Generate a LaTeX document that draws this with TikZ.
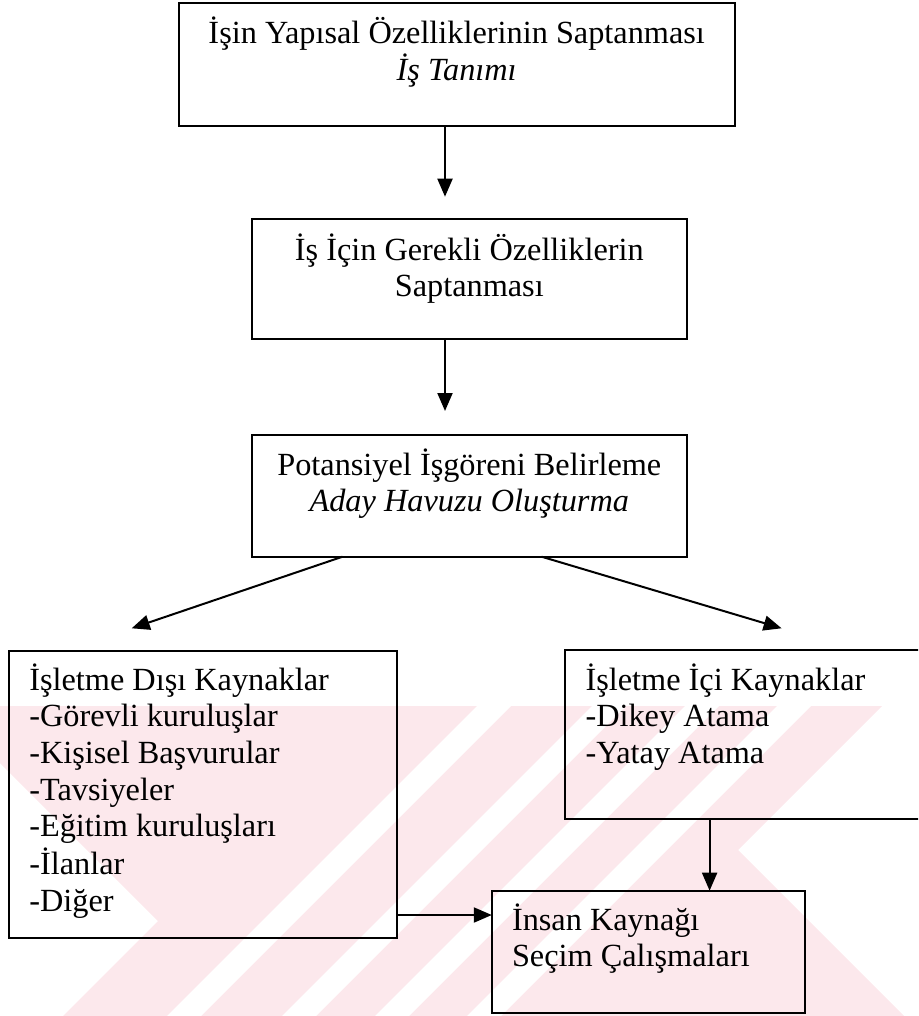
\documentclass[tikz,border=0pt]{standalone}
\usepackage{fontspec}
\setmainfont{Liberation Serif}
\usetikzlibrary{arrows.meta}
\definecolor{wm}{RGB}{252,232,236}
\begin{document}
\begin{tikzpicture}[x=1pt,y=-1pt,
  boxst/.style={draw, line width=2.2pt, inner sep=0pt, outer sep=0pt},
  txt/.style={inner sep=0pt, outer sep=0pt, font=\fontsize{32.3}{36.7}\selectfont},
  arr/.style={line width=2pt, -{Triangle[length=18pt,width=15pt]}}]
\useasboundingbox (0,0) rectangle (918,1016);
\clip (0,0) rectangle (918,1016);
% watermark
\fill[wm] (0,706) -- (882,706) -- (738,850) -- (904,1016) -- (63,1016) -- (158,921) -- (0,763) -- cycle;
\foreach \c in {1200,1315,1408,1500}{
  \fill[white] ({\c-17-706},706) -- ({\c+17-706},706) -- ({\c+17-1016},1016) -- ({\c-17-1016},1016) -- cycle;
}
% boxes
\node[boxst, minimum width=556.2pt, minimum height=122.4pt] (b1) at (456.7,64.5) {};
\node[boxst, minimum width=435pt, minimum height=120.3pt] (b2) at (469.3,279.15) {};
\node[boxst, minimum width=435pt, minimum height=121.7pt] (b3) at (469.3,495.85) {};
\node[boxst, minimum width=388.2pt, minimum height=287.6pt] (b4) at (202.9,794.5) {};
\node[boxst, minimum width=375pt, minimum height=169pt] (b5) at (752.5,734.5) {};
\node[boxst, minimum width=313.2pt, minimum height=122.3pt] (b6) at (648.4,951.85) {};
% texts
\node[txt, anchor=base] (t1) at (456.7,43.3) {\begin{tabular}[t]{@{}c@{}}İşin Yapısal Özelliklerinin Saptanması\\ \textit{İş Tanımı}\end{tabular}};
\node[txt, anchor=base] (t2) at (469.3,260) {\begin{tabular}[t]{@{}c@{}}İş İçin Gerekli Özelliklerin\\ Saptanması\end{tabular}};
\node[txt, anchor=base] (t3) at (469.3,475) {\begin{tabular}[t]{@{}c@{}}Potansiyel İşgöreni Belirleme\\ \textit{Aday Havuzu Oluşturma}\end{tabular}};
\node[txt, anchor=base west] (t4) at (29.3,690) {\begin{tabular}[t]{@{}l@{}}İşletme Dışı Kaynaklar\\ -Görevli kuruluşlar\\ -Kişisel Başvurular\\ -Tavsiyeler\\ -Eğitim kuruluşları\\ -İlanlar\\ -Diğer\end{tabular}};
\node[txt, anchor=base west] (t5) at (585.5,690) {\begin{tabular}[t]{@{}l@{}}İşletme İçi Kaynaklar\\ -Dikey Atama\\ -Yatay Atama\end{tabular}};
\node[txt, anchor=base west] (t6) at (512,930) {\begin{tabular}[t]{@{}l@{}}İnsan Kaynağı\\ Seçim Çalışmaları\end{tabular}};
% connector ends
\coordinate (e1) at (445,196.7);
\coordinate (e2) at (445,411);
\coordinate (e3) at (131.7,628.3);
\coordinate (e4) at (781.6,628.3);
% connectors
\draw[arr] (b1.south -| e1) -- (e1);
\draw[arr] (b2.south -| e2) -- (e2);
\draw[arr] ([xshift=90.7pt]b3.south west) -- (e3);
\draw[arr] ([xshift=289.8pt]b3.south west) -- (e4);
\draw[arr] ([xshift=144.6pt]b5.south west) -- ([xshift=217.8pt]b6.north west);
\draw[arr] ([yshift=-120.5pt]b4.east) -- ([yshift=36.85pt]b6.west);
\end{tikzpicture}
\end{document}
